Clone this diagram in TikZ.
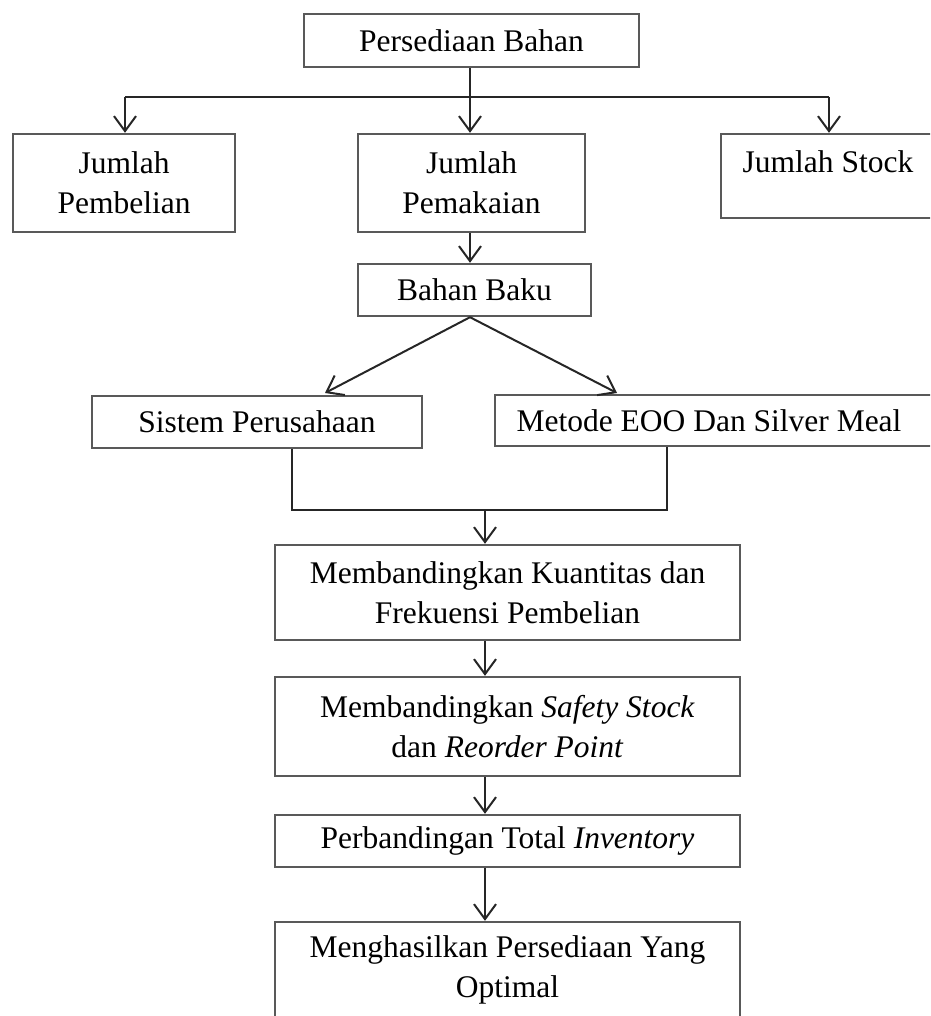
\documentclass[tikz,border=0pt]{standalone}
\usepackage{fontspec}
\setmainfont{Liberation Serif}
\usetikzlibrary{arrows.meta}
\newcommand\fsz{\fontsize{31.5}{40}\selectfont}
\begin{document}
\begin{tikzpicture}[x=1pt,y=-1pt,
  box/.style={draw=black!65, line width=2.4pt, inner sep=0pt, align=center, font=\fsz},
  txt/.style={inner sep=0pt, align=center, font=\fsz},
  conn/.style={draw=black!85, line width=2pt},
  arr/.style={conn, -{Straight Barb[length=15pt,width=22pt,line width=2pt]}}]
\useasboundingbox (0,0) rectangle (930,1016);
\clip (0,0) rectangle (930,1016);
% boxes
\node[box, minimum width=335, minimum height=53] (top) at (471.5,40.5) {Persediaan Bahan};
\node[box, minimum width=222, minimum height=98] (pembelian) at (124,183) {Jumlah\\Pembelian};
\node[box, minimum width=227, minimum height=98] (pemakaian) at (471.5,183) {Jumlah\\Pemakaian};
\node[box, minimum width=214, minimum height=84] (stock) at (828,176) {};
\node[txt] (stocktxt) at (828,162) {Jumlah Stock};
\node[box, minimum width=440, minimum height=51] (metode) at (715,420.5) {};
\node[txt] (metodetxt) at (709,421) {Metode EOO Dan Silver Meal};
\node[box, minimum width=233, minimum height=52] (bahan) at (474.5,290) {Bahan Baku};
\node[box, minimum width=330, minimum height=52] (sistem) at (257,422) {Sistem Perusahaan};
\node[box, minimum width=465, minimum height=95] (kuantitas) at (507.5,592.5) {Membandingkan Kuantitas dan\\Frekuensi Pembelian};
\node[box, minimum width=465, minimum height=99] (safety) at (507.5,726.5) {Membandingkan \textit{Safety Stock}\\dan \textit{Reorder Point}};
\node[box, minimum width=465, minimum height=52] (banding) at (507.5,841) {Perbandingan Total \textit{Inventory}};
\node[box, minimum width=465, minimum height=96] (hasil) at (507.5,970) {Menghasilkan Persediaan Yang\\Optimal};
% connectors
\coordinate (hl) at (125,97);
\coordinate (hr) at (829,97);
\draw[conn] (hl) -- (hr);
\draw[arr] (top.south -| 470,0) -- (pemakaian.north -| 470,0);
\draw[arr] (hl) -- (pembelian.north -| hl);
\draw[arr] (hr) -- (stock.north -| hr);
\draw[arr] (pemakaian.south -| 470,0) -- (bahan.north -| 470,0);
\coordinate (dl) at (325,393);
\coordinate (dr) at (617,393);
\draw[arr] (bahan.south -| 470,0) -- (dl);
\draw[arr] (bahan.south -| 470,0) -- (dr);
\coordinate (ml) at (292,510);
\coordinate (mr) at (667,510);
\coordinate (mm) at (485,510);
\draw[conn] (sistem.south -| ml) -- (ml) -- (mr) -- (metode.south -| mr);
\draw[arr] (mm) -- (kuantitas.north -| mm);
\draw[arr] (kuantitas.south -| mm) -- (safety.north -| mm);
\draw[arr] (safety.south -| mm) -- (banding.north -| mm);
\draw[arr] (banding.south -| mm) -- (hasil.north -| mm);
\end{tikzpicture}
\end{document}
